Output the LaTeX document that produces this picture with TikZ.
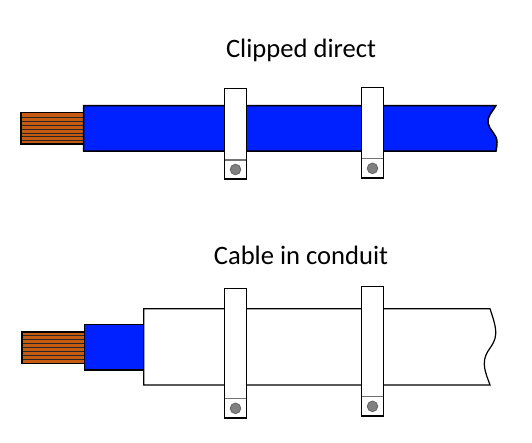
\documentclass[tikz,border=0pt]{standalone}
\usepackage{fontspec}
\setmainfont{Carlito}
\usepackage{tikz}
\definecolor{copper}{HTML}{C55A11}
\definecolor{sheath}{HTML}{0021FF}
\tikzstyle{core} = [draw=black, fill=copper, line width=1.6pt]
\tikzstyle{strand} = [draw=black!85, line width=0.6pt]
\tikzstyle{insulation} = [draw=black, fill=sheath, line width=1.5pt]
\tikzstyle{conduit} = [draw=black, fill=white, line width=1.2pt]
\tikzstyle{clip} = [draw=black, fill=white, line width=1.2pt]
\tikzstyle{clipfold} = [draw=black!55, line width=1.2pt]
\tikzstyle{screw} = [draw=black!60, fill=black!50, line width=0.8pt]
\tikzstyle{title} = [font=\fontsize{26.6}{30}\selectfont, inner sep=0pt]

\begin{document}
\begin{tikzpicture}[x=1pt, y=-1pt]
\useasboundingbox (0,0) rectangle (532,442);
\node [title] (clippedtitle) at (301,50) {Clipped direct};
\node [title] (conduittitle) at (301,255) {Cable in conduit};
% clipped direct
\fill [copper] (21,112.5) rectangle (84,144);
\foreach \k in {1,...,7}
	\draw [strand] (21,113.1+3.94*\k) -- (84,113.1+3.94*\k);
\draw [core, fill=none] (21,112.5) rectangle (84,144);
\draw [insulation] (83.5,105.5) -- (496,105.5)
	.. controls (492,112) and (487,117) .. (488,123)
	.. controls (489,130) and (497,134) .. (497,142)
	.. controls (497,146) and (496.5,148) .. (496,151)
	-- (83.5,151) -- cycle;
% cable in conduit
\fill [copper] (22,331.7) rectangle (85,363.3);
\foreach \k in {1,...,7}
	\draw [strand] (22,331.7+3.95*\k) -- (85,331.7+3.95*\k);
\draw [core, fill=none] (22,331.7) rectangle (85,363.3);
\draw [insulation] (84.5,324.3) rectangle (144,370);
\draw [conduit] (143.7,308.7) -- (490,308.7)
	.. controls (493,318) and (496,326) .. (495.7,334)
	.. controls (495,347) and (484,350) .. (484.3,364)
	.. controls (484.5,372) and (488,379) .. (490,385)
	-- (143.7,385) -- cycle;
% clips
\foreach \cx/\ctop/\cfold/\cbot in {235.5/88.5/160/179, 372.5/87.5/158.7/178,
		235.5/288.7/398.7/418, 372.5/286.7/396.7/416} {
	\draw [clip] (\cx-10.8,\ctop) rectangle (\cx+10.8,\cbot);
	\draw [clipfold] (\cx-10.8,\cfold) -- (\cx+10.8,\cfold);
	\draw [screw] (\cx,{(\cfold+\cbot)/2}) circle (5.3);
}
\end{tikzpicture}
\end{document}
